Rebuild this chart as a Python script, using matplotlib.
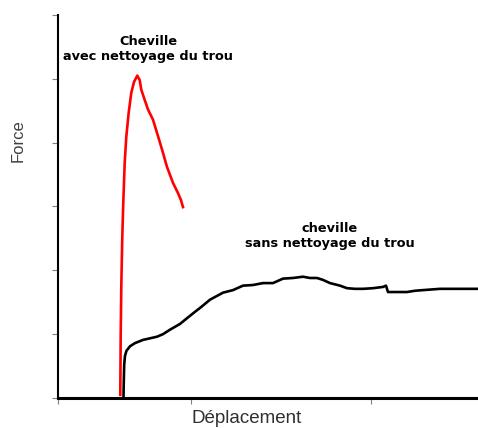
import matplotlib
matplotlib.use("Agg")
import matplotlib.pyplot as plt

# Force-displacement curves for an anchor (cheville), with and without hole cleaning
x_cleaned = [6.23, 6.27, 6.33, 6.43, 6.53, 6.67, 6.83, 7.07, 7.33, 7.6, 7.93, 8.17,
             8.33, 8.67, 9.0, 9.5, 10.2, 10.5, 10.9, 11.5, 12.0, 12.3, 12.5]
f_cleaned = [0.05, 0.96, 1.74, 2.52, 3.06, 3.68, 4.09, 4.47, 4.78, 4.95, 5.05, 4.98,
             4.83, 4.67, 4.52, 4.36, 4.00, 3.84, 3.62, 3.37, 3.21, 3.10, 2.99]

x_not_cleaned = [6.55, 6.58, 6.62, 6.7, 6.85, 7.2, 7.7, 8.5, 9.9, 10.5, 11.2, 12.2, 12.9,
                 13.7, 14.2, 15.2, 16.5, 17.5, 18.5, 19.5, 20.5, 21.5, 22.5, 23.5, 24.5,
                 25.2, 25.9, 26.5, 27.2, 28.2, 28.9, 29.7, 30.5, 31.5, 32.5, 32.8, 33.0,
                 33.9, 34.9, 35.7, 36.5, 38.2, 40.2, 42.0]
f_not_cleaned = [0.0, 0.25, 0.52, 0.66, 0.74, 0.81, 0.86, 0.91, 0.96, 1.00, 1.07, 1.16, 1.25,
                 1.35, 1.41, 1.54, 1.65, 1.69, 1.76, 1.77, 1.80, 1.80, 1.87, 1.88, 1.90,
                 1.88, 1.88, 1.85, 1.80, 1.76, 1.72, 1.71, 1.71, 1.72, 1.74, 1.76, 1.66,
                 1.66, 1.66, 1.68, 1.69, 1.71, 1.71, 1.71]

x_ticks = [0, 13.3, 31.3]
y_ticks = [0, 1, 2, 3, 4, 5, 6]

fig = plt.figure(figsize=(4.78, 4.28), dpi=100)
ax = fig.add_axes([0.1213, 0.0701, 0.8787, 0.8949])

ax.plot(x_cleaned, f_cleaned, color="#ff0000", linewidth=1.9, solid_joinstyle="round")
ax.plot(x_not_cleaned, f_not_cleaned, color="black", linewidth=1.9, solid_joinstyle="round")

ax.set_xlim(0, 42)
ax.set_ylim(0, 6)
ax.set_xticks(x_ticks)
ax.set_yticks(y_ticks)
ax.set_xticklabels([])
ax.set_yticklabels([])
ax.tick_params(axis="y", direction="out", length=4, width=0.8, color="#808080")
ax.tick_params(axis="x", direction="out", length=4, width=0.8, color="#808080")

for side in ("top", "right"):
    ax.spines[side].set_visible(False)
ax.spines["left"].set_linewidth(1.5)
ax.spines["bottom"].set_linewidth(2.2)

ax.set_xlabel("Déplacement", fontsize=13.5, family="Liberation Sans", color="#303030")
ax.xaxis.set_label_coords(0.448, -0.032)
ax.xaxis.label.set_verticalalignment("top")
ax.set_ylabel("Force", fontsize=12, family="Liberation Sans", color="#404040")
ax.yaxis.set_label_coords(-0.076, 0.672)

ax.text(9.0, 5.47, "Cheville\navec nettoyage du trou", ha="center", va="center",
        fontsize=9.3, fontweight="bold", linespacing=1.2)
ax.text(27.2, 2.53, "cheville\nsans nettoyage du trou", ha="center", va="center",
        fontsize=9.3, fontweight="bold", linespacing=1.2)

fig.savefig("out.png", dpi=100)
